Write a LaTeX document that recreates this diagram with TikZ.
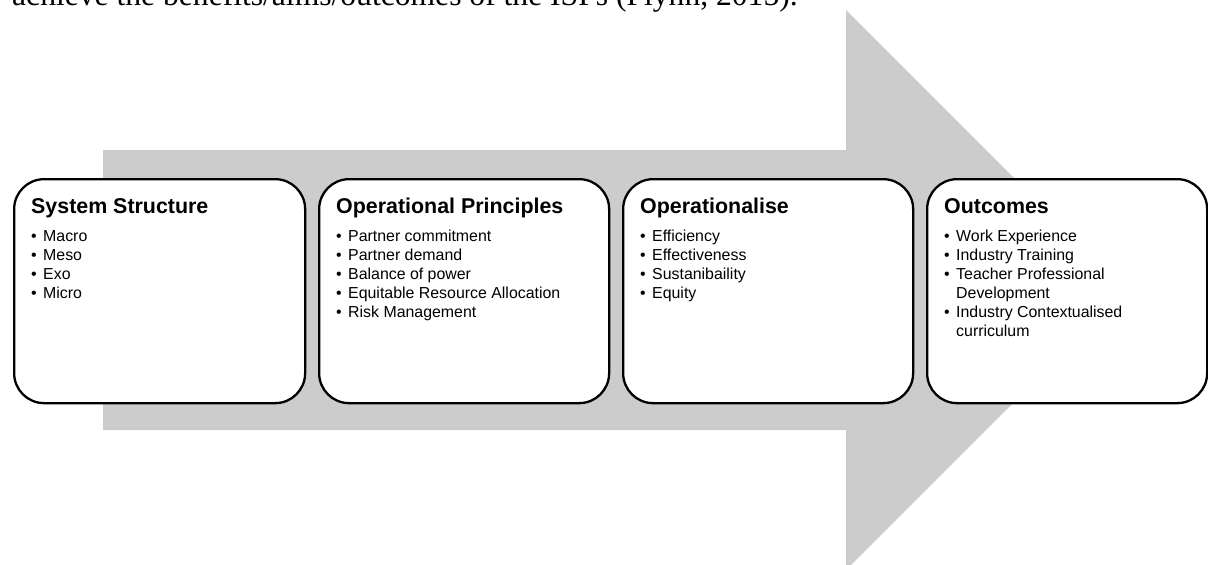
\documentclass[tikz,border=0pt]{standalone}
\usepackage{fontspec}
\setmainfont{Liberation Sans}
\newfontfamily\bodyserif{Liberation Serif}
\definecolor{arrowgray}{RGB}{204,204,204}
\begin{document}
\begin{tikzpicture}[x=1pt,y=-1pt,
  stage/.style={draw=black,line width=2.3pt,fill=white,rounded corners=30pt,
    anchor=north west,minimum height=224pt,inner sep=0pt},
  ttl/.style={anchor=base west,inner sep=0pt,font=\fontsize{21.4}{25}\selectfont\bfseries},
  itm/.style={anchor=base west,inner sep=0pt,font=\fontsize{15.9}{19}\selectfont},
  bul/.style={anchor=base west,inner sep=0pt,font=\fontsize{15.9}{19}\selectfont},
]
\useasboundingbox (0,0) rectangle (1208,565);
\begin{scope}
\clip (0,0) rectangle (1208,565);

% running text of the page above the figure
\node[anchor=base west,inner sep=0pt,font=\bodyserif\fontsize{31.6}{36}\selectfont]
  (caption) at (12,5) {achieve the benefits/aims/outcomes of the ISPs (Flynn, 2015).};

% big grey block arrow behind the stages
\fill[arrowgray] (103,150) -- (846,150) -- (846,10) -- (1126,290)
  -- (846,570) -- (846,430) -- (103,430) -- cycle;

% the four stages
\node[stage,minimum width=291pt] (s1) at (13,178) {};
\node[stage,minimum width=290pt] (s2) at (318,178) {};
\node[stage,minimum width=290pt] (s3) at (622,178) {};
\node[stage,minimum width=280pt] (s4) at (926,178) {};

\node[ttl] (t1) at (31,213) {System Structure};
\node[ttl] (t2) at (336,213) {Operational Principles};
\node[ttl] (t3) at (640,213) {Operationalise};
\node[ttl] (t4) at (944,213) {Outcomes};

% bullet lists: b = 1 draws a bullet, b = 0 continues the previous item
\foreach \b/\txt [count=\i] in {1/Macro,1/Meso,1/Exo,1/Micro}{
  \ifnum\b=1 \node[bul] (b1-\i) at (31,{241+19*(\i-1)}) {\textbullet};\fi
  \node[itm] (i1-\i) at (43,{241+19*(\i-1)}) {\txt};}
\foreach \b/\txt [count=\i] in {1/Partner commitment,1/Partner demand,1/Balance of power,
    1/Equitable Resource Allocation,1/Risk Management}{
  \ifnum\b=1 \node[bul] (b2-\i) at (336,{241+19*(\i-1)}) {\textbullet};\fi
  \node[itm] (i2-\i) at (348,{241+19*(\i-1)}) {\txt};}
\foreach \b/\txt [count=\i] in {1/Efficiency,1/Effectiveness,1/Sustanibaility,1/Equity}{
  \ifnum\b=1 \node[bul] (b3-\i) at (640,{241+19*(\i-1)}) {\textbullet};\fi
  \node[itm] (i3-\i) at (652,{241+19*(\i-1)}) {\txt};}
\foreach \b/\txt [count=\i] in {1/Work Experience,1/Industry Training,1/Teacher Professional,
    0/Development,1/Industry Contextualised,0/curriculum}{
  \ifnum\b=1 \node[bul] (b4-\i) at (944,{241+19*(\i-1)}) {\textbullet};\fi
  \node[itm] (i4-\i) at (956,{241+19*(\i-1)}) {\txt};}
\end{scope}
\end{tikzpicture}
\end{document}
